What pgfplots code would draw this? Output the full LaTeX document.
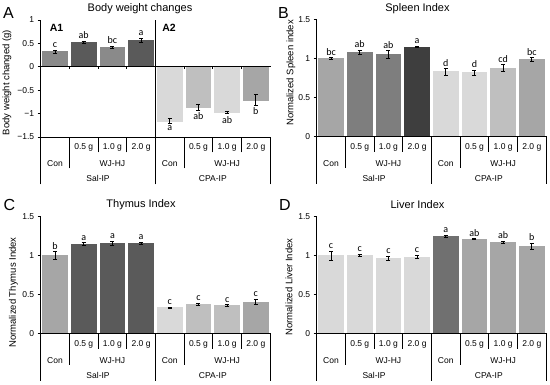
\documentclass[border=0pt]{standalone}
\usepackage{pgfplots}
\pgfplotsset{compat=1.18}
\usepackage{fontspec}
\setmainfont{Liberation Sans}
\newfontfamily\calib{Carlito}

\definecolor{g1}{HTML}{D9D9D9}
\definecolor{g2}{HTML}{BFBFBF}
\definecolor{g3}{HTML}{A6A6A6}
\definecolor{g4}{HTML}{8A8A8A}
\definecolor{g5}{HTML}{7E7E7E}
\definecolor{g6}{HTML}{5A5A5A}
\definecolor{g7}{HTML}{3E3E3E}
\definecolor{g8}{HTML}{707070}

\tikzset{
  tbl/.style={line width=0.8pt, black, line cap=rect},
  tt/.style={font=\fontsize{8.5}{10}\selectfont, inner sep=0pt},
  lt/.style={font=\calib\fontsize{10}{11}\selectfont, inner sep=0.5pt},
}
\pgfplotsset{
  panel/.style={scale only axis, width=229.5pt, height=117pt,
    xmin=-0.5, xmax=7.5, axis x line=none, axis y line*=left,
    clip=false, xtick=\empty, tick align=outside, major tick length=3pt,
    y axis line style={line width=0.8pt, -},
    ytick style={line width=0.8pt, black},
    yticklabel style={font=\fontsize{8.5}{10}\selectfont},
    /pgf/number format/assume math mode=true},
  bb/.style={ybar, bar width=0.86, bar shift=0pt, fill=#1, draw=#1, line width=0pt,
    error bars/y dir=both, error bars/y explicit,
    error bars/error bar style={black, line width=0.9pt},
    error bars/error mark options={black, rotate=90, mark size=2pt, line width=0.9pt}},
}

\newcommand{\cattable}[1]{%
  \draw[tbl] (axis cs:-0.5,#1) -- (axis cs:7.5,#1);
  \draw[tbl] (axis cs:-0.5,#1) -- ++(0pt,-47pt);
  \draw[tbl] (axis cs:0.5,#1) -- ++(0pt,-31pt);
  \draw[tbl] (axis cs:1.5,#1) -- ++(0pt,-15pt);
  \draw[tbl] (axis cs:2.5,#1) -- ++(0pt,-15pt);
  \draw[tbl] (axis cs:3.5,#1) -- ++(0pt,-47pt);
  \draw[tbl] (axis cs:4.5,#1) -- ++(0pt,-31pt);
  \draw[tbl] (axis cs:5.5,#1) -- ++(0pt,-15pt);
  \draw[tbl] (axis cs:6.5,#1) -- ++(0pt,-15pt);
  \draw[tbl] (axis cs:7.5,#1) -- ++(0pt,-47pt);
  \node[tt] at ([yshift=-10.5pt]axis cs:1,#1) {0.5 g};
  \node[tt] at ([yshift=-10.5pt]axis cs:2,#1) {1.0 g};
  \node[tt] at ([yshift=-10.5pt]axis cs:3,#1) {2.0 g};
  \node[tt] at ([yshift=-10.5pt]axis cs:5,#1) {0.5 g};
  \node[tt] at ([yshift=-10.5pt]axis cs:6,#1) {1.0 g};
  \node[tt] at ([yshift=-10.5pt]axis cs:7,#1) {2.0 g};
  \node[tt] at ([yshift=-26.5pt]axis cs:0,#1) {Con};
  \node[tt] at ([yshift=-26.5pt]axis cs:2,#1) {WJ-HJ};
  \node[tt] at ([yshift=-26.5pt]axis cs:4,#1) {Con};
  \node[tt] at ([yshift=-26.5pt]axis cs:6,#1) {WJ-HJ};
  \node[tt] at ([yshift=-41.5pt]axis cs:1.5,#1) {Sal-IP};
  \node[tt] at ([yshift=-41.5pt]axis cs:5.5,#1) {CPA-IP};
}
\newcommand{\up}[3]{\node[lt, anchor=south, yshift=2pt] at (axis cs:#1,#2) {#3};}
\newcommand{\dn}[3]{\node[lt, anchor=north, yshift=-1.5pt] at (axis cs:#1,#2) {#3};}

\begin{document}
\begin{tikzpicture}
% ---------------- A ----------------
\begin{axis}[panel, at={(40.7pt,-137pt)}, anchor=south west,
  ymin=-1.5, ymax=1, ytick={-1.5,-1,-0.5,0,0.5,1},
  yticklabels={−1.5,−1,−0.5,0,0.5,1}]
\addplot[bb=g4] coordinates {(0,0.32) +- (0,0.03)};
\addplot[bb=g6] coordinates {(1,0.52) +- (0,0.02)};
\addplot[bb=g4] coordinates {(2,0.41) +- (0,0.02)};
\addplot[bb=g6] coordinates {(3,0.56) +- (0,0.04)};
\addplot[bb=g1] coordinates {(4,-1.16) +- (0,0.05)};
\addplot[bb=g2] coordinates {(5,-0.87) +- (0,0.06)};
\addplot[bb=g1] coordinates {(6,-0.98) +- (0,0.02)};
\addplot[bb=g3] coordinates {(7,-0.71) +- (0,0.12)};
\draw[tbl] (axis cs:-0.5,0) -- (axis cs:7.5,0);
\draw[tbl] (axis cs:0.5,0) -- ++(0pt,-2pt);
\draw[tbl] (axis cs:1.5,0) -- ++(0pt,-2pt);
\draw[tbl] (axis cs:2.5,0) -- ++(0pt,-2pt);
\draw[tbl] (axis cs:4.5,0) -- ++(0pt,-2pt);
\draw[tbl] (axis cs:5.5,0) -- ++(0pt,-2pt);
\draw[tbl] (axis cs:6.5,0) -- ++(0pt,-2pt);
\draw[tbl] (axis cs:3.5,1) -- (axis cs:3.5,-1.5);
\cattable{-1.5}
\up{0}{0.35}{c}\up{1}{0.54}{ab}\up{2}{0.43}{bc}\up{3}{0.60}{a}
\dn{4}{-1.21}{a}\dn{5}{-0.93}{ab}\dn{6}{-1.02}{ab}\dn{7}{-0.83}{b}
\end{axis}
% ---------------- B ----------------
\begin{axis}[panel, at={(316.7pt,-136.7pt)}, anchor=south west,
  ymin=0, ymax=1.5, ytick={0,0.5,1,1.5}]
\addplot[bb=g3] coordinates {(0,1.00) +- (0,0.01)};
\addplot[bb=g5] coordinates {(1,1.08) +- (0,0.03)};
\addplot[bb=g5] coordinates {(2,1.05) +- (0,0.05)};
\addplot[bb=g7] coordinates {(3,1.15) +- (0,0.01)};
\addplot[bb=g1] coordinates {(4,0.83) +- (0,0.04)};
\addplot[bb=g1] coordinates {(5,0.82) +- (0,0.03)};
\addplot[bb=g2] coordinates {(6,0.88) +- (0,0.04)};
\addplot[bb=g3] coordinates {(7,0.99) +- (0,0.02)};
\cattable{0}
\up{0}{1.01}{bc}\up{1}{1.11}{ab}\up{2}{1.10}{ab}\up{3}{1.16}{a}
\up{4}{0.87}{d}\up{5}{0.85}{d}\up{6}{0.92}{cd}\up{7}{1.01}{bc}
\end{axis}
% ---------------- C ----------------
\begin{axis}[panel, at={(40.7pt,-333.7pt)}, anchor=south west,
  ymin=0, ymax=1.5, ytick={0,0.5,1,1.5}]
\addplot[bb=g3] coordinates {(0,1.00) +- (0,0.05)};
\addplot[bb=g6] coordinates {(1,1.15) +- (0,0.015)};
\addplot[bb=g6] coordinates {(2,1.155) +- (0,0.025)};
\addplot[bb=g6] coordinates {(3,1.16) +- (0,0.015)};
\addplot[bb=g1] coordinates {(4,0.33) +- (0,0.01)};
\addplot[bb=g2] coordinates {(5,0.375) +- (0,0.01)};
\addplot[bb=g2] coordinates {(6,0.36) +- (0,0.01)};
\addplot[bb=g3] coordinates {(7,0.405) +- (0,0.036)};
\cattable{0}
\up{0}{1.05}{b}\up{1}{1.165}{a}\up{2}{1.18}{a}\up{3}{1.175}{a}
\up{4}{0.34}{c}\up{5}{0.385}{c}\up{6}{0.37}{c}\up{7}{0.44}{c}
\end{axis}
% ---------------- D ----------------
\begin{axis}[panel, at={(316.7pt,-333.7pt)}, anchor=south west,
  ymin=0, ymax=1.5, ytick={0,0.5,1,1.5}]
\addplot[bb=g1] coordinates {(0,1.00) +- (0,0.06)};
\addplot[bb=g1] coordinates {(1,1.00) +- (0,0.015)};
\addplot[bb=g1] coordinates {(2,0.97) +- (0,0.025)};
\addplot[bb=g1] coordinates {(3,0.98) +- (0,0.02)};
\addplot[bb=g8] coordinates {(4,1.25) +- (0,0.01)};
\addplot[bb=g3] coordinates {(5,1.21) +- (0,0.005)};
\addplot[bb=g3] coordinates {(6,1.17) +- (0,0.01)};
\addplot[bb=g3] coordinates {(7,1.12) +- (0,0.035)};
\cattable{0}
\up{0}{1.06}{c}\up{1}{1.015}{c}\up{2}{0.995}{c}\up{3}{1.00}{c}
\up{4}{1.26}{a}\up{5}{1.215}{ab}\up{6}{1.18}{ab}\up{7}{1.155}{b}
\end{axis}
% ---------------- titles, letters, y labels ----------------
\begin{scope}[every node/.style={inner sep=0pt}]
\node[font=\fontsize{11}{13}\selectfont] at (140pt,-8.5pt) {Body weight changes};
\node[font=\fontsize{11}{13}\selectfont] at (417.5pt,-8.5pt) {Spleen Index};
\node[font=\fontsize{11}{13}\selectfont] at (141pt,-205pt) {Thymus Index};
\node[font=\fontsize{11}{13}\selectfont] at (417.5pt,-205pt) {Liver Index};
\node[font=\fontsize{16}{18}\selectfont] at (8.5pt,-12.5pt) {A};
\node[font=\fontsize{16}{18}\selectfont] at (283.5pt,-12.5pt) {B};
\node[font=\fontsize{16}{18}\selectfont] at (9.5pt,-204.5pt) {C};
\node[font=\fontsize{16}{18}\selectfont] at (285pt,-204.5pt) {D};
\node[font=\bfseries\fontsize{10.5}{12}\selectfont] at (56.5pt,-28pt) {A1};
\node[font=\bfseries\fontsize{10.5}{12}\selectfont] at (169pt,-27.5pt) {A2};
\node[font=\fontsize{9.5}{11}\selectfont, rotate=90] at (7pt,-82.5pt) {Body weight changed (g)};
\node[font=\fontsize{9.5}{11}\selectfont, rotate=90] at (291pt,-73pt) {Normalized Spleen index};
\node[font=\fontsize{9.5}{11}\selectfont, rotate=90] at (13.5pt,-292.5pt) {Normalized Thymus Index};
\node[font=\fontsize{9.5}{11}\selectfont, rotate=90] at (289pt,-287pt) {Normalized Liver Index};
\end{scope}
\pgfresetboundingbox
\path (0pt,0pt) rectangle (550pt,-384pt);
\end{tikzpicture}
\end{document}
